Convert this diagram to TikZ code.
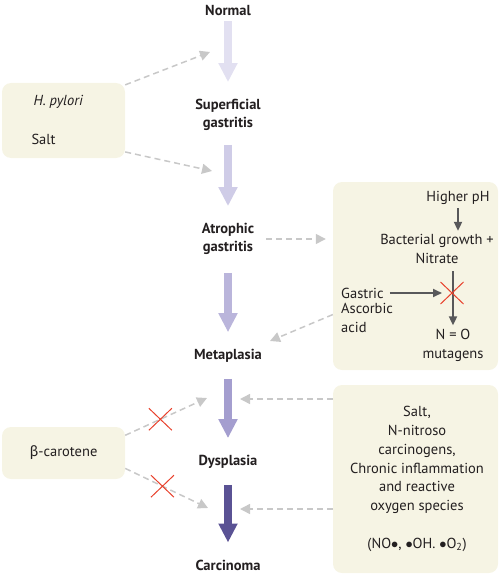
\documentclass[tikz,border=0pt]{standalone}
\usepackage{fontspec}
\setmainfont{PT Sans}
\newfontfamily\greekfont{Fira Sans}
\usetikzlibrary{arrows.meta,shapes.misc,positioning}

\definecolor{boxfill}{RGB}{246,244,228}
\definecolor{txt}{RGB}{35,31,32}
\definecolor{dashgray}{RGB}{200,200,200}
\definecolor{darkarrow}{RGB}{88,88,90}
\definecolor{blockred}{RGB}{232,65,44}
\definecolor{stageA}{RGB}{226,224,241}
\definecolor{stageB}{RGB}{207,204,231}
\definecolor{stageC}{RGB}{186,181,219}
\definecolor{stageD}{RGB}{164,158,207}
\definecolor{stageE}{RGB}{90,82,148}

\tikzset{
  every node/.style={font=\fontsize{14.5}{18.8}\selectfont, text=txt},
  stage/.style={font=\fontsize{14.5}{18}\selectfont\bfseries, align=center, inner sep=0pt},
  factorbox/.style={fill=boxfill, rounded corners=9pt, inner sep=0pt},
  stagearrow/.style={draw=#1, line width=8pt, -{Triangle[width=18pt,length=19pt]}, shorten <=7pt, shorten >=17pt},
  riskarrow/.style={draw=dashgray, line width=1.5pt, dash pattern=on 6pt off 4pt, -{Triangle[width=10pt,length=10pt]}},
  pathway/.style={draw=darkarrow, line width=1.8pt, -{Triangle[width=8pt,length=9pt]}},
  blocked/.style={cross out, solid, draw=blockred, line width=1pt, minimum width=22pt, minimum height=21pt, inner sep=0pt},
}

\begin{document}
\begin{tikzpicture}[x=1pt, y=-1pt]
    \useasboundingbox (0,0) rectangle (501,575);

    %--------------------%
    % Boxes
    %--------------------%
    \node[factorbox, minimum width=123pt, minimum height=75pt] (riskbox) at (63.5,120.5) {};
    \node[factorbox, minimum width=123pt, minimum height=52pt] (betabox) at (63.5,453) {};
    \node[factorbox, minimum width=165pt, minimum height=188pt] (nitrobox) at (415.5,276) {};
    \node[factorbox, minimum width=165pt, minimum height=188pt] (oxbox) at (415.5,479) {};

    %--------------------%
    % Stages
    %--------------------%
    \node[stage] (normal) at (228,10) {Normal};
    \node[stage] (superficial) at (228,115) {Superficial\\gastritis};
    \node[stage] (atrophic) at (228,239) {Atrophic\\gastritis};
    \node[stage] (metaplasia) at (228,356) {Metaplasia};
    \node[stage] (dysplasia) at (228,462) {Dysplasia};
    \node[stage] (carcinoma) at (228,565) {Carcinoma};

    \draw[stagearrow=stageA, shorten <=6pt] (normal) -- (superficial);
    \draw[stagearrow=stageB, shorten <=14pt] (superficial) -- (atrophic);
    \draw[stagearrow=stageC, shorten <=18pt] (atrophic) -- (metaplasia);
    \draw[stagearrow=stageD, shorten <=16pt] (metaplasia) -- (dysplasia);
    \draw[stagearrow=stageE, shorten <=16pt] (dysplasia) -- (carcinoma);

    %--------------------%
    % Box texts
    %--------------------%
    \node[anchor=west] (hpylori) at (30,102) {\itshape H. pylori};
    \node[anchor=west] (salt) at (28,139) {Salt};
    \node (beta) at (63.5,453) {{\greekfont β}-carotene};

    \node (higher) at (458,198) {Higher pH};
    \node[align=center] (bact) at (437,249) {Bacterial growth +\\Nitrate};
    \node[anchor=west, inner sep=0pt] (gastric) at (341,293) {Gastric};
    \node[anchor=north west, align=left, inner sep=0pt] (ascorbic) at (341,303) {Ascorbic\\acid};
    \node[align=center] (nox) at (453,345) {N = O\\mutagens};
    \coordinate (block) at (452,293);

    \node[align=center] (oxygen) at (417,479) {Salt,\\N-nitroso\\carcinogens,\\Chronic inflammation\\and reactive\\oxygen species\\[18.8pt]
      (NO$\bullet$, $\bullet$OH. $\bullet$O\textsubscript{2})};

    %--------------------%
    % Nitrosation pathway
    %--------------------%
    \draw[pathway] (higher) -- (higher |- bact.north);
    \draw[pathway, shorten <=4pt] (bact.south -| nox) -- (nox);
    \draw[pathway, shorten <=6pt, shorten >=10pt] (gastric) -- (block);
    \node[blocked] at (block) {};

    %--------------------%
    % Risk factors
    %--------------------%
    \coordinate (superin) at (210,52);
    \coordinate (atroin) at (212,171);
    \coordinate (metain) at (270,341);
    \coordinate (dysin) at (240,399);
    \coordinate (carin) at (240,509);
    \coordinate (dysbeta) at (207,398);
    \coordinate (carbeta) at (208,508);

    \draw[riskarrow] (riskbox.30) -- (superin);
    \draw[riskarrow] (riskbox.-27) -- (atroin);
    \draw[riskarrow, shorten <=12pt, shorten >=7pt] (atrophic.east) -- (atrophic.east -| nitrobox.west);
    \draw[riskarrow] (nitrobox.205) -- (metain);
    \draw[riskarrow] (oxbox.west |- dysin) -- (dysin);
    \draw[riskarrow] (oxbox.west |- carin) -- (carin);
    \draw[riskarrow] (betabox.16) -- node[blocked, pos=0.43] {} (dysbeta);
    \draw[riskarrow] (betabox.-14) -- node[blocked, pos=0.45] {} (carbeta);

\end{tikzpicture}
\end{document}
